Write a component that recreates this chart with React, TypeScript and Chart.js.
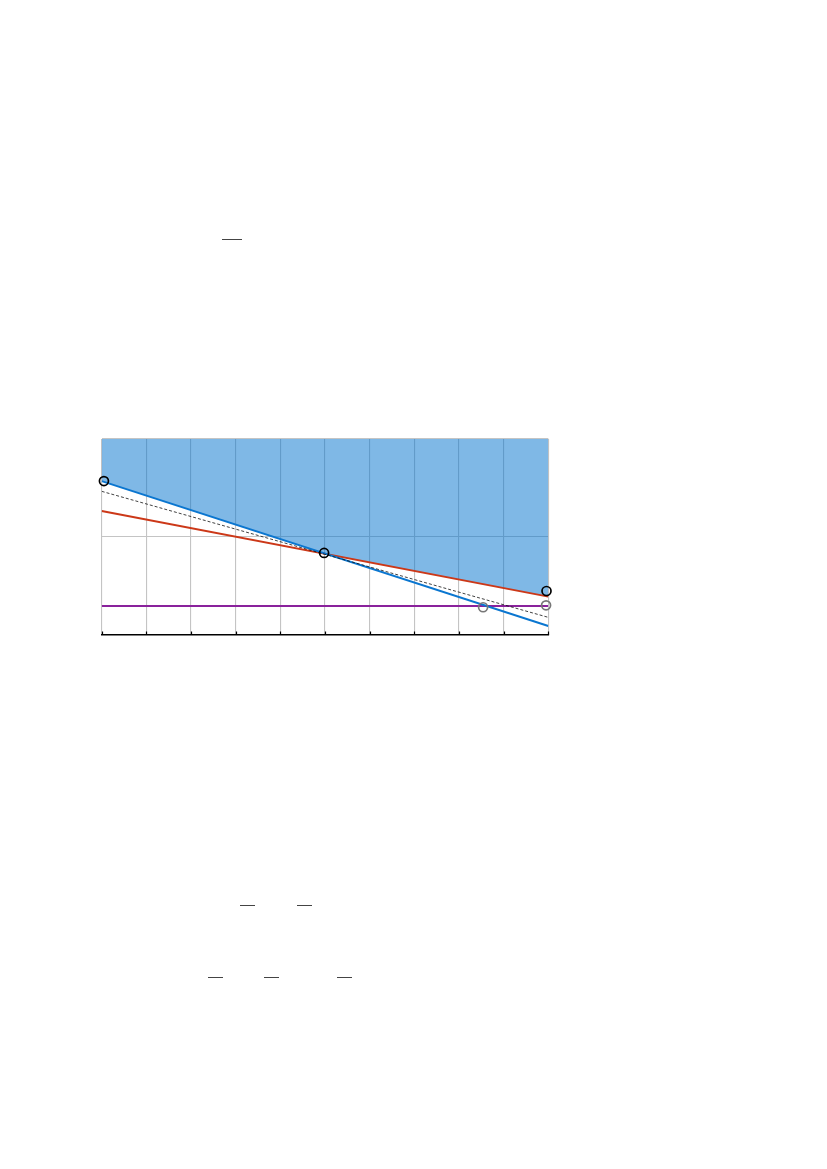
import React, { useEffect, useRef } from 'react';
import Chart from 'chart.js/auto';

// line endpoints (x from 0 to 10, y from 0 to 2)
const lineX = [0, 10];
const blueY = [1.571, 0.092];
const redY = [1.265, 0.391];
const dashedY = [1.466, 0.18];
const purpleY = [0.296, 0.296];

const blackCircleX = [0.05, 4.98, 9.96];
const blackCircleY = [1.571, 0.837, 0.449];
const grayCircleX = [8.54, 9.95];
const grayCircleY = [0.283, 0.303];

const xTicks = [0, 1, 2, 3, 4, 5, 6, 7, 8, 9, 10];

// small fraction bars left on the page (left, top, width)
const pageBars: [number, number, number][] = [
    [222, 239, 20],
    [240, 905, 15],
    [297, 905, 15],
    [208, 977, 14.5],
    [264, 977, 15],
    [337, 977, 14.5],
];

const toPoints = (xs: number[], ys: number[]) => xs.map((x, i) => ({ x, y: ys[i] }));

// upper envelope of the blue and red lines, used for the shaded region
const envelope = () => {
    const sb = (blueY[1] - blueY[0]) / (lineX[1] - lineX[0]);
    const sr = (redY[1] - redY[0]) / (lineX[1] - lineX[0]);
    const xi = lineX[0] + (redY[0] - blueY[0]) / (sb - sr);
    const yi = blueY[0] + sb * (xi - lineX[0]);
    return [
        { x: lineX[0], y: Math.max(blueY[0], redY[0]) },
        { x: xi, y: yi },
        { x: lineX[1], y: Math.max(blueY[1], redY[1]) },
    ];
};

const innerTicks = {
    id: 'innerTicks',
    afterDatasetsDraw(chart: any) {
        const { ctx, chartArea, scales } = chart;
        ctx.save();
        ctx.strokeStyle = '#000';
        ctx.lineWidth = 1.2;
        xTicks.forEach(v => {
            const px = Math.round(scales.x.getPixelForValue(v)) + 0.5;
            ctx.beginPath();
            ctx.moveTo(px, chartArea.bottom);
            ctx.lineTo(px, chartArea.bottom - 3.5);
            ctx.stroke();
        });
        ctx.restore();
    },
};

const RegionChart: React.FC = () => {
    const canvasRef = useRef<HTMLCanvasElement | null>(null);

    useEffect(() => {
        if (!canvasRef.current) return;
        const chart = new Chart(canvasRef.current, {
            type: 'scatter',
            data: {
                datasets: [
                    {
                        data: toPoints(blackCircleX, blackCircleY),
                        showLine: false,
                        pointRadius: 4.5,
                        pointBorderWidth: 1.7,
                        pointBorderColor: '#000',
                        pointBackgroundColor: 'rgba(0,0,0,0)',
                        clip: false,
                        order: 0,
                    },
                    {
                        data: toPoints(grayCircleX, grayCircleY),
                        showLine: false,
                        pointRadius: 4.5,
                        pointBorderWidth: 1.7,
                        pointBorderColor: '#777777',
                        pointBackgroundColor: 'rgba(0,0,0,0)',
                        clip: false,
                        order: 1,
                    },
                    {
                        data: toPoints(lineX, dashedY),
                        showLine: true,
                        borderColor: '#111',
                        borderWidth: 0.8,
                        borderDash: [3, 2],
                        pointRadius: 0,
                        order: 2,
                    },
                    {
                        data: toPoints(lineX, blueY),
                        showLine: true,
                        borderColor: '#0a76d0',
                        borderWidth: 1.9,
                        pointRadius: 0,
                        order: 3,
                    },
                    {
                        data: toPoints(lineX, redY),
                        showLine: true,
                        borderColor: '#cc3818',
                        borderWidth: 1.9,
                        pointRadius: 0,
                        order: 4,
                    },
                    {
                        data: toPoints(lineX, purpleY),
                        showLine: true,
                        borderColor: '#8a229c',
                        borderWidth: 2,
                        pointRadius: 0,
                        order: 5,
                    },
                    {
                        data: envelope(),
                        showLine: true,
                        borderWidth: 0,
                        borderColor: 'rgba(0,0,0,0)',
                        backgroundColor: 'rgba(0,114,206,0.5)',
                        fill: 'end',
                        pointRadius: 0,
                        order: 6,
                    },
                ],
            },
            options: {
                animation: false,
                responsive: false,
                maintainAspectRatio: false,
                layout: { padding: { left: 21.7, top: 19, right: 21.7, bottom: 15 } },
                plugins: { legend: { display: false }, tooltip: { enabled: false } },
                scales: {
                    x: {
                        type: 'linear',
                        min: 0,
                        max: 10,
                        ticks: { display: false, stepSize: 1 },
                        grid: { color: '#c4c4c4', lineWidth: 1.1, drawTicks: false },
                        border: { display: true, color: '#000', width: 1.4 },
                    },
                    y: {
                        type: 'linear',
                        min: 0,
                        max: 2,
                        ticks: { display: false, stepSize: 1 },
                        grid: { color: '#c4c4c4', lineWidth: 1.1, drawTicks: false },
                        border: { display: false },
                    },
                },
            },
            plugins: [innerTicks],
        });
        return () => chart.destroy();
    }, []);

    return (
        <canvas
            ref={canvasRef}
            width={490}
            height={230}
            style={{ position: 'absolute', left: 80, top: 420, width: 490, height: 230 }}
        />
    );
};

export default function App() {
    return (
        <div style={{ position: 'absolute', left: 0, top: 0, width: 827, height: 1169 }}>
            {pageBars.map(([l, t, w], i) => (
                <div
                    key={i}
                    style={{ position: 'absolute', left: l, top: t, width: w, height: 1.4, background: '#444' }}
                />
            ))}
            <RegionChart />
        </div>
    );
}
